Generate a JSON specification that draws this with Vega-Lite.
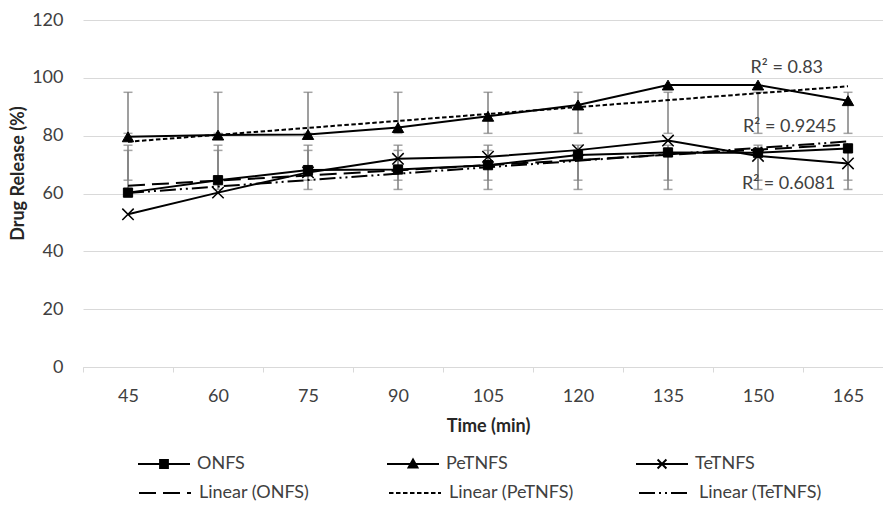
{
  "$schema": "https://vega.github.io/schema/vega-lite/v6.json",
  "width": 800,
  "height": 347,
  "autosize": {"type": "none"},
  "padding": {"left": 83, "top": 20, "right": 0, "bottom": 141},
  "background": "white",
  "config": {
    "view": {"stroke": null},
    "font": "Lato",
    "axis": {"labelFont": "Lato", "titleFont": "Lato"},
    "axisY": {
      "grid": true, "gridColor": "#d9d9d9", "gridWidth": 1,
      "domain": false, "ticks": false, "labelPadding": 20, "labelFontSize": 18, "labelColor": "#404040",
      "titleFontSize": 18, "titleFontWeight": "bold", "titleColor": "#262626",
      "titleX": -65, "titleY": 153, "titleAngle": -90, "titleAlign": "center", "titleBaseline": "middle"
    },
    "legend": {"labelFont": "Lato"}
  },
  "datasets": {
    "release": [
      {"time": 45, "series": "ONFS", "trend": "Linear (ONFS)", "value": 60.3, "errLo": 64.6, "errHi": 74.9},
      {"time": 60, "series": "ONFS", "trend": "Linear (ONFS)", "value": 64.6, "errLo": 64.6, "errHi": 74.9},
      {"time": 75, "series": "ONFS", "trend": "Linear (ONFS)", "value": 68.1, "errLo": 64.6, "errHi": 74.9},
      {"time": 90, "series": "ONFS", "trend": "Linear (ONFS)", "value": 68.3, "errLo": 64.6, "errHi": 74.9},
      {"time": 105, "series": "ONFS", "trend": "Linear (ONFS)", "value": 69.8, "errLo": 64.6, "errHi": 74.9},
      {"time": 120, "series": "ONFS", "trend": "Linear (ONFS)", "value": 73.3, "errLo": 64.6, "errHi": 74.9},
      {"time": 135, "series": "ONFS", "trend": "Linear (ONFS)", "value": 74.2, "errLo": 64.6, "errHi": 74.9},
      {"time": 150, "series": "ONFS", "trend": "Linear (ONFS)", "value": 74.1, "errLo": 64.6, "errHi": 74.9},
      {"time": 165, "series": "ONFS", "trend": "Linear (ONFS)", "value": 75.6, "errLo": 64.6, "errHi": 74.9},
      {"time": 45, "series": "PeTNFS", "trend": "Linear (PeTNFS)", "value": 79.6, "errLo": 80.8, "errHi": 95.0},
      {"time": 60, "series": "PeTNFS", "trend": "Linear (PeTNFS)", "value": 80.2, "errLo": 80.8, "errHi": 95.0},
      {"time": 75, "series": "PeTNFS", "trend": "Linear (PeTNFS)", "value": 80.4, "errLo": 80.8, "errHi": 95.0},
      {"time": 90, "series": "PeTNFS", "trend": "Linear (PeTNFS)", "value": 82.8, "errLo": 80.8, "errHi": 95.0},
      {"time": 105, "series": "PeTNFS", "trend": "Linear (PeTNFS)", "value": 86.7, "errLo": 80.8, "errHi": 95.0},
      {"time": 120, "series": "PeTNFS", "trend": "Linear (PeTNFS)", "value": 90.6, "errLo": 80.8, "errHi": 95.0},
      {"time": 135, "series": "PeTNFS", "trend": "Linear (PeTNFS)", "value": 97.5, "errLo": 80.8, "errHi": 95.0},
      {"time": 150, "series": "PeTNFS", "trend": "Linear (PeTNFS)", "value": 97.5, "errLo": 80.8, "errHi": 95.0},
      {"time": 165, "series": "PeTNFS", "trend": "Linear (PeTNFS)", "value": 92.1, "errLo": 80.8, "errHi": 95.0},
      {"time": 45, "series": "TeTNFS", "trend": "Linear (TeTNFS)", "value": 52.8, "errLo": 61.4, "errHi": 76.7},
      {"time": 60, "series": "TeTNFS", "trend": "Linear (TeTNFS)", "value": 60.3, "errLo": 61.4, "errHi": 76.7},
      {"time": 75, "series": "TeTNFS", "trend": "Linear (TeTNFS)", "value": 67.3, "errLo": 61.4, "errHi": 76.7},
      {"time": 90, "series": "TeTNFS", "trend": "Linear (TeTNFS)", "value": 72.0, "errLo": 61.4, "errHi": 76.7},
      {"time": 105, "series": "TeTNFS", "trend": "Linear (TeTNFS)", "value": 72.7, "errLo": 61.4, "errHi": 76.7},
      {"time": 120, "series": "TeTNFS", "trend": "Linear (TeTNFS)", "value": 75.0, "errLo": 61.4, "errHi": 76.7},
      {"time": 135, "series": "TeTNFS", "trend": "Linear (TeTNFS)", "value": 78.3, "errLo": 61.4, "errHi": 76.7},
      {"time": 150, "series": "TeTNFS", "trend": "Linear (TeTNFS)", "value": 73.0, "errLo": 61.4, "errHi": 76.7},
      {"time": 165, "series": "TeTNFS", "trend": "Linear (TeTNFS)", "value": 70.4, "errLo": 61.4, "errHi": 76.7}
    ],
    "r2": [
      {"time": 154.8, "value": 103.4, "label": "R² = 0.83"},
      {"time": 155.3, "value": 83.0, "label": "R² = 0.9245"},
      {"time": 155.1, "value": 63.2, "label": "R² = 0.6081"}
    ]
  },
  "data": {"name": "release"},
  "encoding": {
    "x": {
      "field": "time", "type": "quantitative",
      "scale": {"domain": [37.5, 172.5], "range": [0, 810], "nice": false, "zero": false},
      "axis": {
        "values": [45, 60, 75, 90, 105, 120, 135, 150, 165],
        "tickOffset": -45, "labelOffset": 45, "tickSize": 5,
        "tickColor": "#d9d9d9", "domainColor": "#d9d9d9", "grid": false,
        "labelPadding": 15, "labelFontSize": 18, "labelColor": "#404040",
        "labelFlush": false, "labelOverlap": false, "labelBound": false,
        "title": "Time (min)", "titleFontSize": 18, "titleFontWeight": "bold",
        "titleColor": "#262626", "titleY": 50, "titleBaseline": "top"
      }
    }
  },
  "layer": [
    {
      "mark": {"type": "errorbar", "ticks": {"size": 9, "color": "#7f7f7f", "thickness": 1.5}, "rule": {"color": "#7f7f7f", "strokeWidth": 1.5}},
      "encoding": {
        "y": {"field": "errLo", "type": "quantitative", "scale": {"domain": [0, 120]}, "title": "Drug Release (%)", "axis": {"values": [0, 20, 40, 60, 80, 100, 120]}},
        "y2": {"field": "errHi"}
      }
    },
    {
      "transform": [{"regression": "value", "on": "time", "groupby": ["trend"], "method": "linear"}],
      "mark": {"type": "line", "color": "black", "strokeWidth": 2},
      "encoding": {
        "y": {"field": "value", "type": "quantitative", "scale": {"domain": [0, 120]}, "title": "Drug Release (%)", "axis": {"values": [0, 20, 40, 60, 80, 100, 120]}},
        "strokeDash": {
          "field": "trend", "type": "nominal",
          "scale": {"domain": ["Linear (ONFS)", "Linear (PeTNFS)", "Linear (TeTNFS)"], "range": [[17, 7], [4.5, 2.5], [16, 4, 2, 4, 2, 4]]},
          "legend": {
            "orient": "none", "legendX": 55, "legendY": 446, "direction": "horizontal",
            "title": null, "symbolType": "stroke", "symbolSize": 2704, "symbolStrokeWidth": 2,
            "symbolStrokeColor": "black", "labelFontSize": 18, "labelColor": "#404040",
            "labelOffset": 7, "gridAlign": "all", "columnPadding": 61, "padding": 0
          }
        }
      }
    },
    {
      "mark": {"type": "line", "color": "black", "strokeWidth": 2},
      "encoding": {
        "y": {"field": "value", "type": "quantitative", "scale": {"domain": [0, 120]}, "title": "Drug Release (%)", "axis": {"values": [0, 20, 40, 60, 80, 100, 120]}},
        "detail": {"field": "series"}
      }
    },
    {
      "mark": {"type": "point", "opacity": 0, "filled": false, "color": "black"},
      "encoding": {
        "y": {"field": "value", "type": "quantitative", "scale": {"domain": [0, 120]}, "title": "Drug Release (%)", "axis": {"values": [0, 20, 40, 60, 80, 100, 120]}},
        "shape": {
          "field": "series", "type": "nominal",
          "scale": {"domain": ["ONFS", "PeTNFS", "TeTNFS"], "range": [
            "M-1,0H1M-0.15,-0.15H0.15V0.15H-0.15ZM-0.15,-0.075H0.15M-0.15,0.075H0.15",
            "M-1,0H1M0,-0.17L0.17,0.13H-0.17ZM-0.0425,-0.095H0.0425M-0.085,-0.02H0.085M-0.1275,0.055H0.1275",
            "M-1,0H1M-0.17,-0.17L0.17,0.17M-0.17,0.17L0.17,-0.17"
          ]},
          "legend": {
            "orient": "none", "legendX": 54, "legendY": 417, "direction": "horizontal",
            "title": null, "symbolSize": 2704, "symbolStrokeWidth": 2,
            "symbolStrokeColor": "black", "symbolOpacity": 1, "labelFontSize": 18, "labelColor": "#404040",
            "labelOffset": 6, "gridAlign": "all", "columnPadding": 124, "padding": 0
          }
        }
      }
    },
    {
      "transform": [{"filter": "datum.series === 'ONFS'"}],
      "mark": {"type": "point", "shape": "square", "size": 85, "filled": true, "fill": "black", "stroke": "black", "strokeWidth": 1, "opacity": 1},
      "encoding": {"y": {"field": "value", "type": "quantitative", "scale": {"domain": [0, 120]}, "title": "Drug Release (%)", "axis": {"values": [0, 20, 40, 60, 80, 100, 120]}}}
    },
    {
      "transform": [{"filter": "datum.series === 'PeTNFS'"}],
      "mark": {"type": "point", "shape": "triangle-up", "size": 130, "filled": true, "fill": "black", "stroke": "black", "strokeWidth": 1, "opacity": 1},
      "encoding": {"y": {"field": "value", "type": "quantitative", "scale": {"domain": [0, 120]}, "title": "Drug Release (%)", "axis": {"values": [0, 20, 40, 60, 80, 100, 120]}}}
    },
    {
      "transform": [{"filter": "datum.series === 'TeTNFS'"}],
      "mark": {"type": "point", "shape": "M-1,-1L1,1M-1,1L1,-1", "size": 130, "filled": false, "stroke": "black", "strokeWidth": 1.5, "opacity": 1},
      "encoding": {"y": {"field": "value", "type": "quantitative", "scale": {"domain": [0, 120]}, "title": "Drug Release (%)", "axis": {"values": [0, 20, 40, 60, 80, 100, 120]}}}
    },
    {
      "data": {"name": "r2"},
      "mark": {"type": "text", "font": "Lato", "fontSize": 18, "color": "#404040", "baseline": "middle", "align": "center"},
      "encoding": {
        "y": {"field": "value", "type": "quantitative", "scale": {"domain": [0, 120]}, "title": "Drug Release (%)", "axis": {"values": [0, 20, 40, 60, 80, 100, 120]}},
        "text": {"field": "label"}
      }
    }
  ]
}
